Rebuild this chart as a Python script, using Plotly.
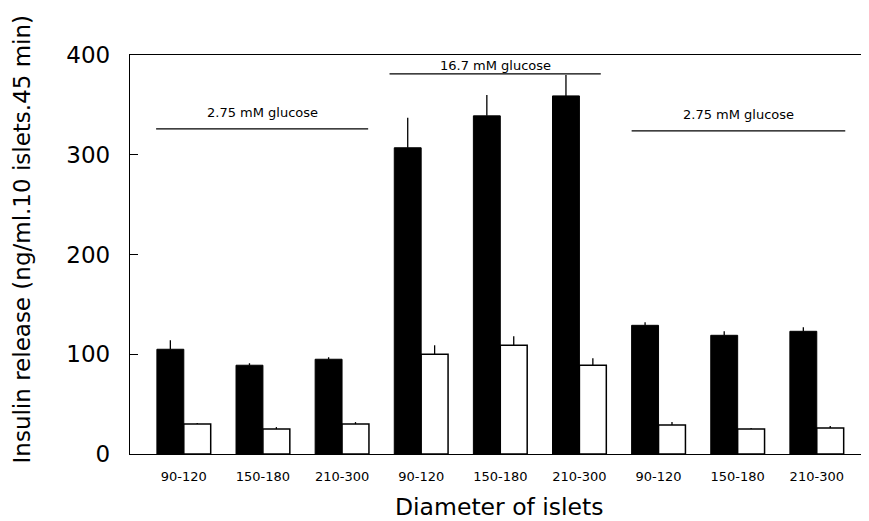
import plotly.graph_objects as go

categories = ["90-120", "150-180", "210-300", "90-120", "150-180", "210-300", "90-120", "150-180", "210-300"]
black_values = [105, 89, 95, 307, 339, 359, 129, 119, 123]
black_err = [9, 2, 2, 30, 21, 21, 3, 4, 4]
white_values = [30, 25, 30, 100, 109, 89, 29, 25, 26]
white_err = [1, 2, 2, 9, 9, 7, 3, 1, 2]
group_labels = ["2.75 mM glucose", "16.7 mM glucose", "2.75 mM glucose"]
x_title = "Diameter of islets"
y_title = "Insulin release (ng/ml.10 islets.45 min)"

x = list(range(len(categories)))
FONT = "DejaVu Sans, Verdana, sans-serif"

fig = go.Figure()
fig.add_trace(go.Bar(
    x=x, y=black_values,
    marker=dict(color="black", line=dict(color="black", width=1)),
    error_y=dict(type="data", array=black_err, arrayminus=[0]*9, symmetric=False,
                 color="black", thickness=1.3, width=0),
    showlegend=False,
))
fig.add_trace(go.Bar(
    x=x, y=white_values,
    marker=dict(color="white", line=dict(color="black", width=1.5)),
    error_y=dict(type="data", array=white_err, arrayminus=[0]*9, symmetric=False,
                 color="black", thickness=1.3, width=0),
    showlegend=False,
))

# group annotation lines (x positions in category units, y in data units)
groups = [(-0.35, 2.33, 326, 342), (2.60, 5.27, 381, 389), (5.66, 8.36, 324, 340)]
for (x0, x1, yl, yt), lab in zip(groups, group_labels):
    fig.add_shape(type="line", x0=x0, x1=x1, y0=yl, y1=yl, xref="x", yref="y",
                  line=dict(color="black", width=1.2))
    fig.add_annotation(x=(x0 + x1) / 2, y=yt, text=lab, showarrow=False, xref="x", yref="y",
                       font=dict(family=FONT, size=13, color="black"), yanchor="middle")

# axis titles
fig.add_annotation(x=-0.146, y=0.538, xref="paper", yref="paper", text=y_title,
                   textangle=-90, showarrow=False, xanchor="center", yanchor="middle",
                   borderpad=0, font=dict(family=FONT, size=23, color="black"))
fig.add_annotation(x=0.5, y=-0.132, xref="paper", yref="paper", text=x_title,
                   showarrow=False, xanchor="center", yanchor="middle",
                   borderpad=0, font=dict(family=FONT, size=23.5, color="black"))

fig.update_layout(
    width=861, height=513,
    margin=dict(l=122, r=0, t=47, b=67),
    paper_bgcolor="white", plot_bgcolor="white",
    barmode="group", bargap=0.32, bargroupgap=0,
    font=dict(family=FONT, color="black"),
    xaxis=dict(
        range=[-0.68, 8.66],
        tickmode="array", tickvals=x, ticktext=categories,
        tickfont=dict(size=13, family=FONT),
        showline=True, linecolor="black", linewidth=1.3, mirror=True,
        ticks="", showgrid=False, zeroline=False,
        ticklabelstandoff=10,
    ),
    yaxis=dict(
        range=[0, 400],
        tickvals=[0, 100, 200, 300, 400],
        tickfont=dict(size=23, family=FONT),
        ticks="inside", ticklen=8, tickcolor="black", tickwidth=1,
        showline=True, linecolor="black", linewidth=1.3,
        showgrid=False, zeroline=False,
        ticklabelstandoff=14,
    ),
)

fig.write_html("out.html")
